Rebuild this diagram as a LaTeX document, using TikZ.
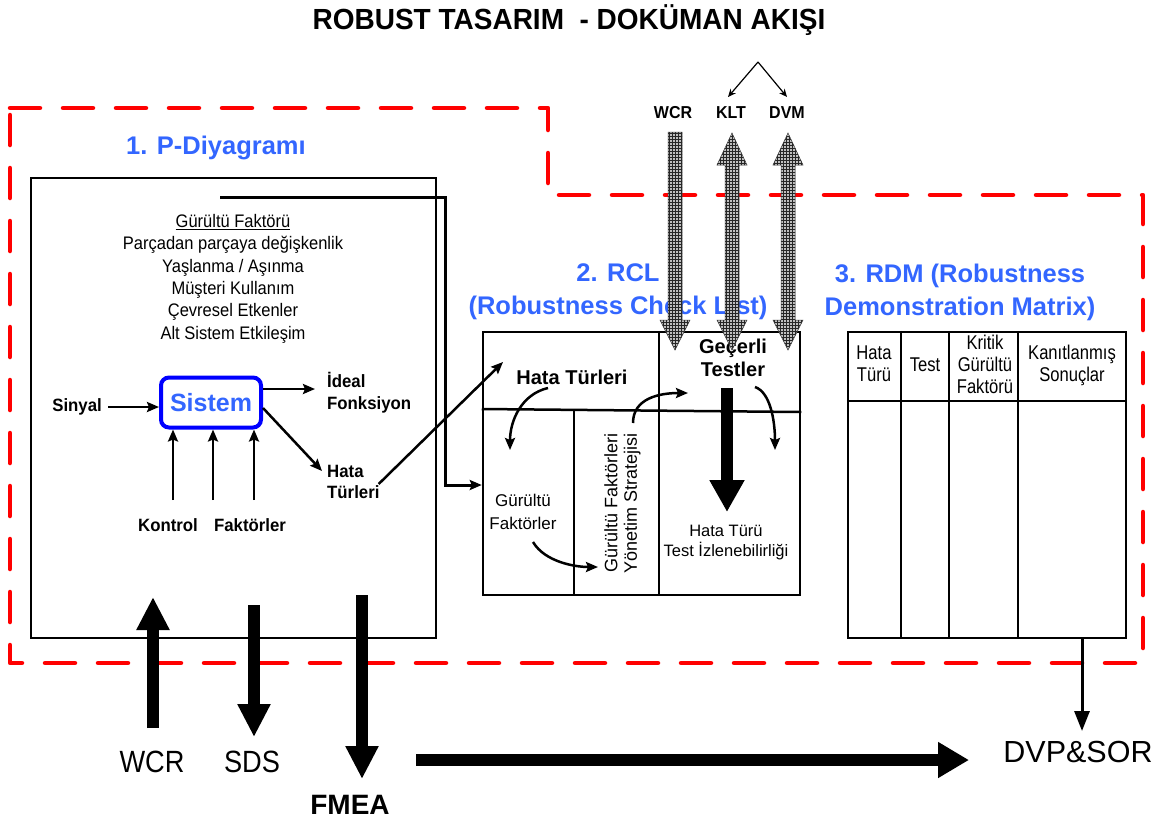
\documentclass[tikz,border=0pt]{standalone}
\usepackage{fontspec}
\setmainfont{Liberation Sans}
\usetikzlibrary{arrows.meta,patterns}

\definecolor{headblue}{RGB}{51,102,255}
\definecolor{zonered}{RGB}{255,0,0}

% text block, stretched vertically by #1, lines centred
\newcommand{\tallc}[2]{\scalebox{1}[#1]{\begin{tabular}{@{}c@{}}#2\end{tabular}}}
% same, lines set flush left
\newcommand{\talll}[2]{\scalebox{1}[#1]{\begin{tabular}{@{}l@{}}#2\end{tabular}}}

\begin{document}
\begin{tikzpicture}[x=1pt,y=-1pt,
  txt/.style={inner sep=0pt, font=\fontsize{16.5}{20.3}\selectfont},
  btxt/.style={inner sep=0pt, font=\bfseries\fontsize{16.8}{20}\selectfont},
  cellb/.style={inner sep=0pt, align=center, font=\bfseries\fontsize{20}{23}\selectfont},
  rdmhead/.style={inner sep=0pt, font=\fontsize{16.6}{18.2}\selectfont},
  bluehead/.style={inner sep=0pt, align=center, text=headblue, font=\bfseries\fontsize{25.5}{33}\selectfont},
  frame/.style={draw, line width=2.5pt, inner sep=0pt},
  rule/.style={line width=2.5pt},
  arr/.style={line width=2.5pt, -{Stealth[length=12pt,width=10pt,inset=2pt]}},
  fatarrow/.style={line width=12pt, -{Triangle[length=33pt,width=31pt]}},
  zone/.style={draw=zonered, line width=4.5pt, dash pattern=on 30pt off 23pt, line cap=round, line join=round},
  hatch/.style={preaction={fill=gray!50}, pattern=grid, pattern color=black!85, draw=gray!45!black, line width=0.5pt},
  biglabel/.style={inner sep=0pt, font=\fontsize{27.2}{30}\selectfont},
]
\useasboundingbox (0,0) rectangle (1171,823);

% title
\node[inner sep=0pt, font=\bfseries\fontsize{28}{30}\selectfont] (title) at (569,20) {\scalebox{1}[1.04]{ROBUST TASARIM~ - DOKÜMAN AKIŞI}};

% red dashed zone
\draw[zone] (10,108) -- (548,108) -- (548,195) -- (1143,195) -- (1143,663) -- (10,663) -- cycle;

% ---------- 1. P-diagram ----------
\node[bluehead] (ptitle) at (216,148) {1. P-Diyagramı};
\node[frame, minimum width=405pt, minimum height=460pt] (pbox) at (233.5,408) {};

\node[txt] (noise) at (233,279) {\tallc{1.1}{\underline{Gürültü Faktörü}\\Parçadan parçaya değişkenlik\\Yaşlanma / Aşınma\\Müşteri Kullanım\\Çevresel Etkenler\\Alt Sistem Etkileşim}};

\node[draw=blue, line width=4pt, rounded corners=8pt, fill=white, inner sep=0pt,
      minimum width=100pt, minimum height=50pt, text=headblue,
      font=\bfseries\fontsize{25}{30}\selectfont] (sys) at (211,402.5) {Sistem};

\node[btxt, anchor=east] (sig) at (102,407) {\tallc{1.06}{Sinyal}};
\node[btxt, anchor=west] (ideal) at (327,394) {\talll{1.06}{İdeal\\Fonksiyon}};
\node[btxt, anchor=west] (ptypes) at (327,484) {\talll{1.06}{Hata\\Türleri}};
\node[btxt] (ctl) at (168,527) {\tallc{1.06}{Kontrol}};
\node[btxt] (ctlf) at (250,527) {\tallc{1.06}{Faktörler}};

\draw[arr] (sig.east |- 0,407) ++(6,0) -- (sys.west |- 0,407);
\draw[arr] (sys.east |- 0,389) -- (315,389);
\draw[arr] (sys.east |- 0,408) -- (322,471);
\foreach \cx in {173,213,254} \draw[arr] (\cx,500) -- (sys.south -| \cx,0);

% ---------- 2. RCL ----------
\node[bluehead] (rclt) at (618,292) {2. RCL\\(Robustness Check List)};
\node[frame, minimum width=317pt, minimum height=263pt] (rcl) at (641.5,463.5) {};
\draw[rule] (rcl.west |- 0,409) -- (rcl.east |- 0,412);
\draw[rule] (rcl.north -| 659,0) -- (rcl.south -| 659,0);
\draw[rule] (574,410) -- (rcl.south -| 574,0);

\node[cellb] (rclft) at (572,377) {Hata Türleri};
\node[cellb] (rclvt) at (733,358) {Geçerli\\Testler};
\node[inner sep=0pt, align=center, font=\fontsize{17}{23}\selectfont] (rclnf) at (523,512) {Gürültü\\Faktörler};
\node[inner sep=0pt, align=center, rotate=90, font=\fontsize{18}{19.5}\selectfont] (rclns) at (622.5,503) {Gürültü Faktörleri\\Yönetim Stratejisi};
\node[inner sep=0pt, align=center, font=\fontsize{16.5}{20}\selectfont] (rcltr) at (726,543) {Hata Türü\\Test İzlenebilirliği};

\draw[arr] (548,388) .. controls (522,394) and (510,420) .. (510,450);
\draw[arr] (633,423) .. controls (633,398) and (660,393) .. (688,393);
\draw[arr] (755,387) .. controls (770,392) and (775,420) .. (775,450);
\draw[arr] (533,542) .. controls (545,562) and (575,567) .. (598,567);
\draw[line width=12pt, -{Triangle[length=32pt,width=33pt]}] (727,388) -- (727,512);

% connectors from the P-diagram into the RCL
\draw[arr] (ptypes.east |- 0,484) ++(-1,0) -- (503,362);
\coordinate (nfstart) at (220,197);
\draw[line width=3pt, line join=miter, -{Stealth[length=12pt,width=10pt,inset=2pt]}]
  (nfstart) -- (445,197) -- (445,485) -- (rcl.west |- 0,485);

% ---------- 3. RDM ----------
\node[bluehead] (rdmt) at (960,292) {3. RDM (Robustness\\Demonstration Matrix)};
\node[frame, minimum width=278pt, minimum height=306pt] (rdm) at (987,485) {};
\draw[rule] (rdm.west |- 0,401) -- (rdm.east |- 0,401);
\foreach \vx in {901,949,1018} \draw[rule] (rdm.north -| \vx,0) -- (rdm.south -| \vx,0);
\node[rdmhead] (h1) at (874,366) {\tallc{1.2}{Hata\\Türü}};
\node[rdmhead] (h2) at (925,367) {\tallc{1.2}{Test}};
\node[rdmhead] (h3) at (985,367) {\tallc{1.2}{Kritik\\Gürültü\\Faktörü}};
\node[rdmhead] (h4) at (1072,366) {\tallc{1.2}{Kanıtlanmış\\Sonuçlar}};

% ---------- document flow at the top ----------
\node[inner sep=0pt, font=\bfseries\fontsize{16}{18}\selectfont] (wcrt) at (673,113) {\scalebox{1}[1.08]{WCR}};
\node[inner sep=0pt, font=\bfseries\fontsize{16}{18}\selectfont] (klt) at (731,113) {\scalebox{1}[1.08]{KLT}};
\node[inner sep=0pt, font=\bfseries\fontsize{16}{18}\selectfont] (dvm) at (787,113) {\scalebox{1}[1.08]{DVM}};
\coordinate (apex) at (758,62);
\draw[line width=1.2pt, -{Stealth[length=8pt,width=7pt]}] (apex) -- (728,97);
\draw[line width=1.2pt, -{Stealth[length=8pt,width=7pt]}] (apex) -- (787,97);

% hatched transfer arrows
\draw[hatch] (668,132) -- (682,132) -- (682,320) -- (690,320) -- (675,350) -- (660,320) -- (668,320) -- cycle;
\foreach \c in {732,788}
  \draw[hatch] (\c-7,165) -- (\c-15,165) -- (\c,133) -- (\c+15,165) -- (\c+7,165) -- (\c+7,320)
     -- (\c+15,320) -- (\c,350) -- (\c-15,320) -- (\c-7,320) -- cycle;

% ---------- outputs at the bottom ----------
\node[biglabel] (wcrb) at (152,762) {\scalebox{1}[1.13]{WCR}};
\node[biglabel] (sds) at (252,762) {\scalebox{1}[1.13]{SDS}};
\node[inner sep=0pt, font=\bfseries\fontsize{28}{30}\selectfont] (fmea) at (350,805) {FMEA};
\node[inner sep=0pt, font=\fontsize{30.5}{32}\selectfont] (dvp) at (1078,752) {DVP\&SOR};

\draw[fatarrow] (153,728) -- (153,597);
\draw[fatarrow] (254,605) -- (254,737);
\draw[fatarrow] (362,595) -- (362,779);
\draw[line width=12pt, -{Triangle[length=31pt,width=34pt]}] (416,760) -- (969,760);
\draw[line width=3pt, -{Triangle[length=20pt,width=15pt]}] (rdm.south -| 1082,0) -- (1082,731);

\end{tikzpicture}
\end{document}
